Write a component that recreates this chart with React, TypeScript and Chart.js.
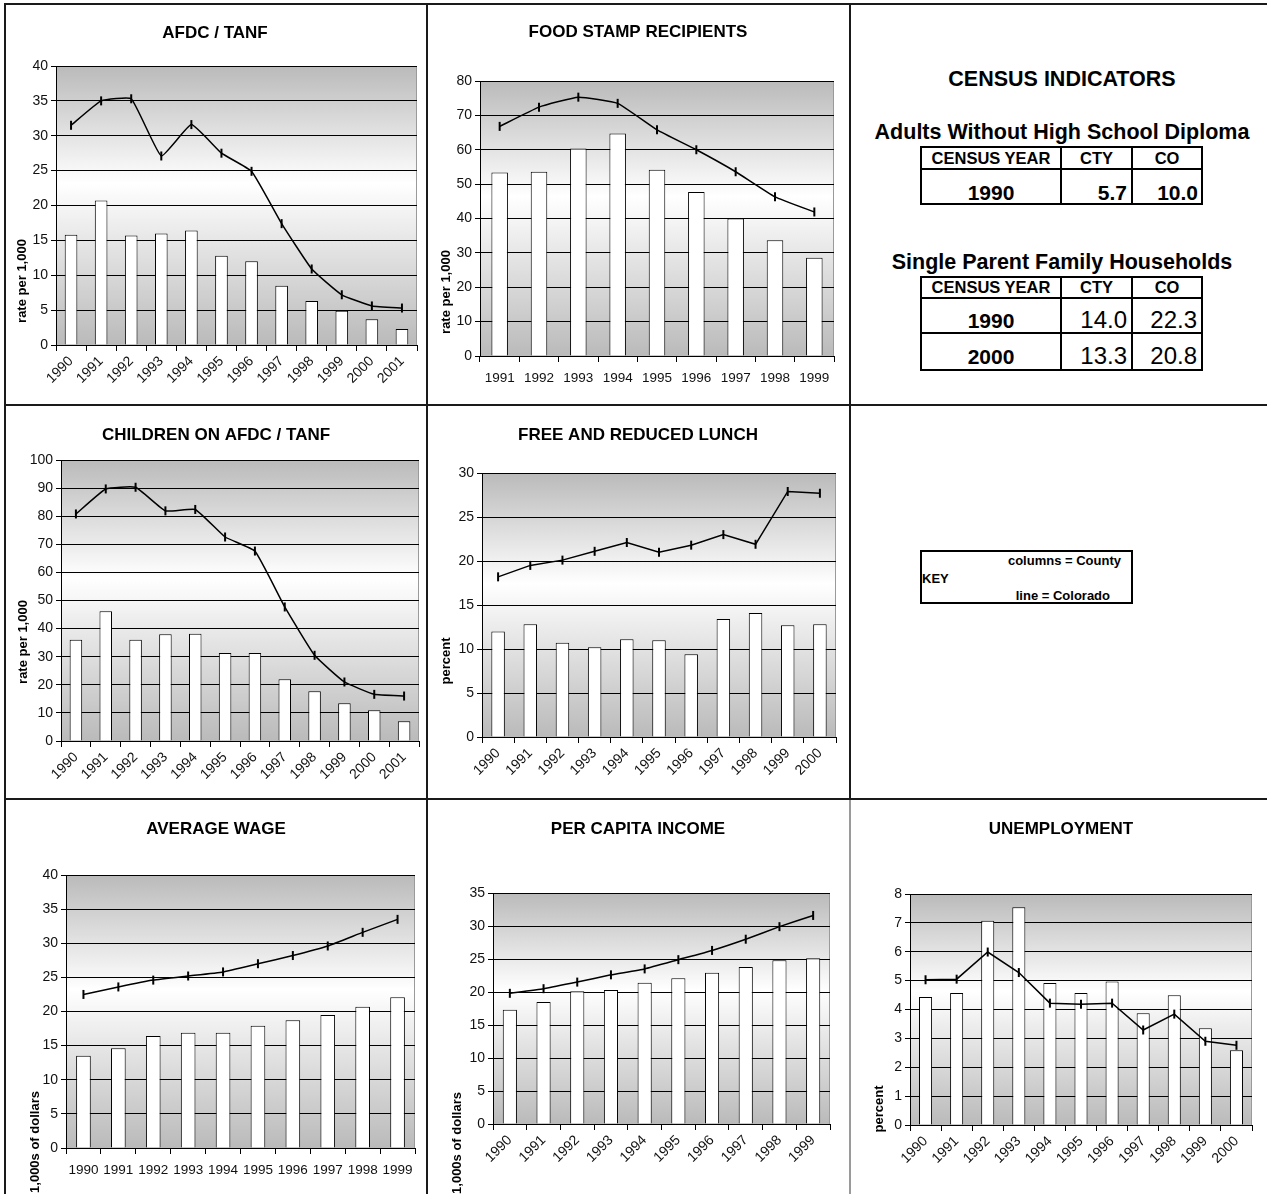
import React, { useEffect, useRef } from 'react';
import { Chart, registerables } from 'chart.js';

Chart.register(...registerables);

const FONT = "'Liberation Sans', Arial, Helvetica, sans-serif";

// ---------------- DATA ----------------
const afdcYears = ['1990', '1991', '1992', '1993', '1994', '1995', '1996', '1997', '1998', '1999', '2000', '2001'];
const afdcCounty = [15.8, 20.7, 15.7, 16.0, 16.4, 12.8, 12.0, 8.5, 6.3, 4.9, 3.7, 2.3];
const afdcColorado = [31.5, 35.0, 35.3, 27.1, 31.6, 27.5, 24.9, 17.4, 10.9, 7.2, 5.6, 5.3];

const foodYears = ['1991', '1992', '1993', '1994', '1995', '1996', '1997', '1998', '1999'];
const foodCounty = [53.4, 53.6, 60.4, 64.7, 54.2, 47.7, 40.0, 33.7, 28.6];
const foodColorado = [66.8, 72.4, 75.3, 73.5, 65.8, 60.0, 53.6, 46.3, 41.9];

const childYears = ['1990', '1991', '1992', '1993', '1994', '1995', '1996', '1997', '1998', '1999', '2000', '2001'];
const childCounty = [36.0, 46.2, 36.0, 38.0, 38.2, 31.3, 31.3, 22.0, 17.7, 13.4, 10.9, 7.0];
const childColorado = [80.8, 89.7, 90.3, 81.9, 82.4, 72.6, 67.6, 47.7, 30.5, 21.0, 16.6, 16.0];

const lunchYears = ['1990', '1991', '1992', '1993', '1994', '1995', '1996', '1997', '1998', '1999', '2000'];
const lunchCounty = [12.0, 12.8, 10.7, 10.2, 11.1, 11.0, 9.4, 13.4, 14.1, 12.7, 12.8];
const lunchColorado = [18.2, 19.5, 20.1, 21.1, 22.1, 21.0, 21.8, 23.0, 21.9, 27.9, 27.7];

const wageYears = ['1990', '1991', '1992', '1993', '1994', '1995', '1996', '1997', '1998', '1999'];
const wageCounty = [13.5, 14.6, 16.4, 16.9, 16.9, 17.9, 18.7, 19.5, 20.7, 22.1];
const wageColorado = [22.5, 23.6, 24.6, 25.2, 25.8, 27.0, 28.2, 29.6, 31.6, 33.5];

const pciYears = ['1990', '1991', '1992', '1993', '1994', '1995', '1996', '1997', '1998', '1999'];
const pciCounty = [17.3, 18.5, 20.1, 20.3, 21.4, 22.1, 22.9, 23.8, 24.8, 25.1];
const pciColorado = [19.8, 20.5, 21.5, 22.6, 23.5, 24.9, 26.3, 28.0, 29.9, 31.6];

const unempYears = ['1990', '1991', '1992', '1993', '1994', '1995', '1996', '1997', '1998', '1999', '2000'];
const unempCounty = [4.43, 4.57, 7.07, 7.54, 4.92, 4.57, 4.97, 3.87, 4.49, 3.35, 2.59];
const unempColorado = [5.03, 5.05, 5.99, 5.28, 4.22, 4.18, 4.22, 3.29, 3.84, 2.9, 2.76];

const censusHeader = ['CENSUS YEAR', 'CTY', 'CO'];
const diplomaRows = [['1990', '5.7', '10.0']];
const singleParentRows = [
  ['1990', '14.0', '22.3'],
  ['2000', '13.3', '20.8'],
];

// ---------------- LAYOUT ----------------
type Spec = {
  id: string;
  labels: string[];
  county: number[];
  colorado: number[];
  title: string;
  yTitle: string;
  yMax: number;
  yStep: number;
  rotate: boolean;
  tension: number;
  box: [number, number, number, number];
  plot: [number, number, number, number];
  titlePos: [number, number];
  yTitlePos: [number, number];
};

const C1: [number, number] = [6, 420];
const C2: [number, number] = [428, 421];
const C3: [number, number] = [851, 416];
const R1: [number, number] = [5, 399];
const R2: [number, number] = [406, 392];
const R3: [number, number] = [800, 394];

const specs: Spec[] = [
  {
    id: 'afdc', labels: afdcYears, county: afdcCounty, colorado: afdcColorado,
    title: 'AFDC / TANF', yTitle: 'rate per 1,000', yMax: 40, yStep: 5, rotate: true, tension: 0.12,
    box: [C1[0], R1[0], C1[1], R1[1]], plot: [56, 66, 417, 345], titlePos: [215, 33], yTitlePos: [22, 281],
  },
  {
    id: 'food', labels: foodYears, county: foodCounty, colorado: foodColorado,
    title: 'FOOD STAMP RECIPIENTS', yTitle: 'rate per 1,000', yMax: 80, yStep: 10, rotate: false, tension: 0.12,
    box: [C2[0], R1[0], C2[1], R1[1]], plot: [480, 81, 834, 356], titlePos: [638, 32], yTitlePos: [446, 292],
  },
  {
    id: 'child', labels: childYears, county: childCounty, colorado: childColorado,
    title: 'CHILDREN ON AFDC / TANF', yTitle: 'rate per 1,000', yMax: 100, yStep: 10, rotate: true, tension: 0.12,
    box: [C1[0], R2[0], C1[1], R2[1]], plot: [61, 460, 419, 741], titlePos: [216, 435], yTitlePos: [23, 642],
  },
  {
    id: 'lunch', labels: lunchYears, county: lunchCounty, colorado: lunchColorado,
    title: 'FREE AND REDUCED LUNCH', yTitle: 'percent', yMax: 30, yStep: 5, rotate: true, tension: 0,
    box: [C2[0], R2[0], C2[1], R2[1]], plot: [482, 473, 836, 737], titlePos: [638, 435], yTitlePos: [446, 661],
  },
  {
    id: 'wage', labels: wageYears, county: wageCounty, colorado: wageColorado,
    title: 'AVERAGE WAGE', yTitle: '1,000s of dollars', yMax: 40, yStep: 5, rotate: false, tension: 0.12,
    box: [C1[0], R3[0], C1[1], R3[1]], plot: [66, 875, 415, 1148], titlePos: [216, 829], yTitlePos: [35, 1142],
  },
  {
    id: 'pci', labels: pciYears, county: pciCounty, colorado: pciColorado,
    title: 'PER CAPITA INCOME', yTitle: '1,000s of dollars', yMax: 35, yStep: 5, rotate: true, tension: 0.12,
    box: [C2[0], R3[0], C2[1], R3[1]], plot: [493, 893, 830, 1124], titlePos: [638, 829], yTitlePos: [457, 1143],
  },
  {
    id: 'unemp', labels: unempYears, county: unempCounty, colorado: unempColorado,
    title: 'UNEMPLOYMENT', yTitle: 'percent', yMax: 8, yStep: 1, rotate: true, tension: 0,
    box: [C3[0], R3[0], C3[1], R3[1]], plot: [910, 894, 1252, 1125], titlePos: [1061, 829], yTitlePos: [879, 1109],
  },
];

function Panel({ s }: { s: Spec }) {
  const ref = useRef<HTMLCanvasElement>(null);
  useEffect(() => {
    const [cx, cy, cw, ch] = s.box;
    const [pl, pt, pr, pb] = s.plot;
    const deco = {
      id: 'deco',
      beforeDraw(chart: any) {
        const { ctx, chartArea: a } = chart;
        ctx.save();
        const g = ctx.createLinearGradient(0, a.top, 0, a.bottom);
        g.addColorStop(0, '#bababa');
        g.addColorStop(0.42, '#ffffff');
        g.addColorStop(1, '#bababa');
        ctx.fillStyle = g;
        ctx.fillRect(a.left, a.top, a.right - a.left, a.bottom - a.top);
        ctx.strokeStyle = '#9a9a9a';
        ctx.lineWidth = 1;
        ctx.beginPath();
        ctx.moveTo(a.left, a.top + 0.5);
        ctx.lineTo(a.right - 0.5, a.top + 0.5);
        ctx.lineTo(a.right - 0.5, a.bottom);
        ctx.stroke();
        ctx.restore();
      },
      afterDraw(chart: any) {
        const { ctx } = chart;
        ctx.save();
        ctx.fillStyle = '#000';
        ctx.textAlign = 'center';
        ctx.textBaseline = 'middle';
        ctx.font = `bold 17px ${FONT}`;
        ctx.fillText(s.title, s.titlePos[0] - cx, s.titlePos[1] - cy);
        ctx.translate(s.yTitlePos[0] - cx, s.yTitlePos[1] - cy);
        ctx.rotate(-Math.PI / 2);
        ctx.font = `bold 13px ${FONT}`;
        ctx.fillText(s.yTitle, 0, 0);
        ctx.restore();
      },
    };
    const chart = new Chart(ref.current as HTMLCanvasElement, {
      type: 'bar',
      data: {
        labels: s.labels,
        datasets: [
          {
            type: 'line',
            label: 'Colorado',
            data: s.colorado,
            borderColor: '#000',
            borderWidth: 1.5,
            tension: s.tension,
            pointStyle: 'line',
            pointRotation: 90,
            pointRadius: 4.5,
            pointBorderColor: '#000',
            pointBorderWidth: 2,
            pointBackgroundColor: '#000',
            fill: false,
            clip: false,
            order: 0,
          } as any,
          {
            type: 'bar',
            label: 'County',
            data: s.county,
            backgroundColor: '#ffffff',
            borderColor: '#000',
            borderWidth: 1,
            barPercentage: 0.42,
            categoryPercentage: 1,
            order: 1,
          } as any,
        ],
      },
      options: {
        responsive: false,
        animation: false,
        devicePixelRatio: 1,
        events: [],
        layout: { padding: { left: 0, top: pt - cy, right: cx + cw - pr, bottom: 0 } },
        plugins: { legend: { display: false }, tooltip: { enabled: false }, title: { display: false } },
        scales: {
          x: {
            offset: true,
            grid: { offset: true, drawOnChartArea: false, drawTicks: true, tickLength: 6, color: '#000', lineWidth: 1 },
            border: { display: true, color: '#000', width: 1 },
            ticks: {
              color: '#111',
              font: { family: FONT, size: s.rotate ? 14 : 13.5 },
              minRotation: s.rotate ? 45 : 0,
              maxRotation: s.rotate ? 45 : 0,
              autoSkip: false,
              padding: s.rotate ? 2 : 8,
            },
            afterFit: (sc: any) => {
              sc.height = cy + ch - pb;
              sc.paddingLeft = 0;
              sc.paddingRight = 0;
              sc.paddingTop = 0;
              sc.paddingBottom = 0;
            },
          },
          y: {
            min: 0,
            max: s.yMax,
            ticks: { stepSize: s.yStep, color: '#111', font: { family: FONT, size: 14 }, padding: 3 },
            grid: { color: '#000', lineWidth: 1, drawTicks: true, tickLength: 5 },
            border: { display: true, color: '#000', width: 1 },
            afterFit: (sc: any) => {
              sc.width = pl - cx;
              sc.paddingLeft = 0;
              sc.paddingRight = 0;
              sc.paddingTop = 0;
              sc.paddingBottom = 0;
            },
          },
        },
      },
      plugins: [deco],
    } as any);
    return () => chart.destroy();
  }, [s]);
  const [cx, cy, cw, ch] = s.box;
  return (
    <canvas
      ref={ref}
      width={cw}
      height={ch}
      style={{ position: 'absolute', left: cx, top: cy, width: cw, height: ch }}
    />
  );
}

function Line({ x, y, w, h, c = '#1a1a1a' }: { x: number; y: number; w: number; h: number; c?: string }) {
  return <div style={{ position: 'absolute', left: x, top: y, width: w, height: h, background: c }} />;
}

function Txt({ x, y, text, size, bold, align = 'center' }: { x: number; y: number; text: string; size: number; bold?: boolean; align?: 'center' | 'left' | 'right' }) {
  const tx = align === 'center' ? '-50%' : align === 'right' ? '-100%' : '0';
  return (
    <div
      style={{
        position: 'absolute',
        left: x,
        top: y,
        transform: `translate(${tx}, -50%)`,
        fontFamily: FONT,
        fontSize: size,
        fontWeight: bold ? 'bold' : 'normal',
        lineHeight: 1,
        whiteSpace: 'nowrap',
        color: '#000',
      }}
    >
      {text}
    </div>
  );
}

function Grid({ cols, rows }: { cols: number[]; rows: number[] }) {
  const cells: React.ReactNode[] = [];
  for (let r = 0; r < rows.length - 1; r++) {
    for (let c = 0; c < cols.length - 1; c++) {
      cells.push(
        <div
          key={`${r}-${c}`}
          style={{
            position: 'absolute',
            left: cols[c] - 1,
            top: rows[r] - 1,
            width: cols[c + 1] - cols[c] + 2,
            height: rows[r + 1] - rows[r] + 2,
            border: '2px solid #000',
            boxSizing: 'border-box',
          }}
        />
      );
    }
  }
  return <>{cells}</>;
}

const tCols = [921, 1061, 1132, 1202];

export default function App() {
  return (
    <div style={{ position: 'absolute', left: 0, top: 0, width: 1267, height: 1194, background: '#fff', overflow: 'hidden' }}>
      {specs.map((s) => (
        <Panel key={s.id} s={s} />
      ))}
      {/* panel borders */}
      <Line x={4} y={3} w={1263} h={2} />
      <Line x={4} y={3} w={2} h={1191} />
      <Line x={426} y={3} w={2} h={1191} />
      <Line x={849} y={3} w={2} h={797} />
      <Line x={849} y={800} w={2} h={394} c="#9a9a9a" />
      <Line x={4} y={404} w={1263} h={2} />
      <Line x={4} y={798} w={1263} h={2} />

      {/* census indicators */}
      <Txt x={1062} y={80} text="CENSUS INDICATORS" size={21.5} bold />
      <Txt x={1062} y={133} text="Adults Without High School Diploma" size={21.5} bold />
      <Grid cols={tCols} rows={[147, 169, 204]} />
      <Txt x={991} y={158} text={censusHeader[0]} size={16.5} bold />
      <Txt x={1096.5} y={158} text={censusHeader[1]} size={16.5} bold />
      <Txt x={1167} y={158} text={censusHeader[2]} size={16.5} bold />
      {diplomaRows.map((r, i) => (
        <React.Fragment key={i}>
          <Txt x={991} y={192 + i * 36} text={r[0]} size={21} bold />
          <Txt x={1127} y={192 + i * 36} text={r[1]} size={21} bold align="right" />
          <Txt x={1198} y={192 + i * 36} text={r[2]} size={21} bold align="right" />
        </React.Fragment>
      ))}

      <Txt x={1062} y={263} text="Single Parent Family Households" size={21.5} bold />
      <Grid cols={tCols} rows={[277, 298, 333, 370]} />
      <Txt x={991} y={287} text={censusHeader[0]} size={16.5} bold />
      <Txt x={1096.5} y={287} text={censusHeader[1]} size={16.5} bold />
      <Txt x={1167} y={287} text={censusHeader[2]} size={16.5} bold />
      {singleParentRows.map((r, i) => (
        <React.Fragment key={i}>
          <Txt x={991} y={320 + i * 36} text={r[0]} size={21} bold />
          <Txt x={1127} y={320 + i * 36} text={r[1]} size={24} align="right" />
          <Txt x={1197} y={320 + i * 36} text={r[2]} size={24} align="right" />
        </React.Fragment>
      ))}

      {/* key */}
      <div style={{ position: 'absolute', left: 920, top: 550, width: 213, height: 54, border: '2px solid #000', boxSizing: 'border-box' }} />
      <Txt x={1121} y={560} text="columns = County" size={13} bold align="right" />
      <Txt x={922} y={578} text="KEY" size={13} bold align="left" />
      <Txt x={1110} y={595} text="line = Colorado" size={13} bold align="right" />
    </div>
  );
}
